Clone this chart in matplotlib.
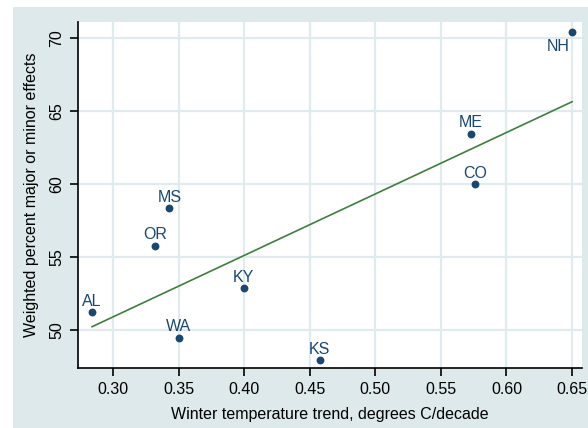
import matplotlib
matplotlib.use("Agg")
import matplotlib.pyplot as plt
from matplotlib.patches import Rectangle

# values
states = ["NH", "ME", "CO", "MS", "OR", "KY", "AL", "WA", "KS"]
trend = [0.650, 0.573, 0.576, 0.343, 0.332, 0.3995, 0.284, 0.350, 0.4575]
effects = [70.45, 63.46, 60.0, 58.36, 55.76, 52.87, 51.23, 49.47, 47.94]

fit_x = [0.284, 0.650]
fit_y = [50.22, 65.65]

xticks = [0.30, 0.35, 0.40, 0.45, 0.50, 0.55, 0.60, 0.65]
yticks = [50, 55, 60, 65, 70]

navy = "#1a476f"
green = "#3d7f3d"
bg = "#dde9ea"
gridc = "#dfebed"
fs = 11.5

plt.rcParams["font.family"] = ["Liberation Sans", "DejaVu Sans"]

fig = plt.figure(figsize=(5.88, 4.28), dpi=100)
fig.patches.append(Rectangle((13 / 588, 0), 1, 1 - 7 / 428, transform=fig.transFigure,
                             facecolor=bg, edgecolor="none", zorder=-10))

ax = fig.add_axes([78 / 588, 1 - 368 / 428, (582 - 78) / 588, (368 - 22) / 428])
ax.set_facecolor("white")

ax.plot(fit_x, fit_y, color=green, lw=1.2, zorder=2)
ax.scatter(trend, effects, s=32, color=navy, zorder=3, linewidths=0)

for s, x, y in zip(states, trend, effects):
    if s == "NH":
        ax.annotate(s, (x, y), xytext=(-1.5, -5), textcoords="offset points",
                    ha="right", va="top", color=navy, fontsize=fs)
    else:
        ax.annotate(s, (x, y), xytext=(0, 2.5), textcoords="offset points",
                    ha="center", va="bottom", color=navy, fontsize=fs)

ax.set_xlim(0.2733, 0.6576)
ax.set_ylim(47.39, 71.12)
ax.set_xticks(xticks)
ax.set_xticklabels([f"{t:.2f}" for t in xticks])
ax.set_yticks(yticks)
ax.set_yticklabels([str(t) for t in yticks], rotation=90, va="center")

ax.grid(True, color=gridc, lw=1.6, zorder=0)
ax.set_axisbelow(True)
for side in ["top", "right"]:
    ax.spines[side].set_visible(False)
for side in ["left", "bottom"]:
    ax.spines[side].set_linewidth(1.2)
ax.tick_params(direction="out", length=6, width=1.2, labelsize=fs, colors="black", pad=4)

ax.set_xlabel("Winter temperature trend, degrees C/decade", fontsize=fs, labelpad=7)
ax.set_ylabel("Weighted percent major or minor effects", fontsize=fs, labelpad=7)

fig.savefig("out.png", dpi=100)
